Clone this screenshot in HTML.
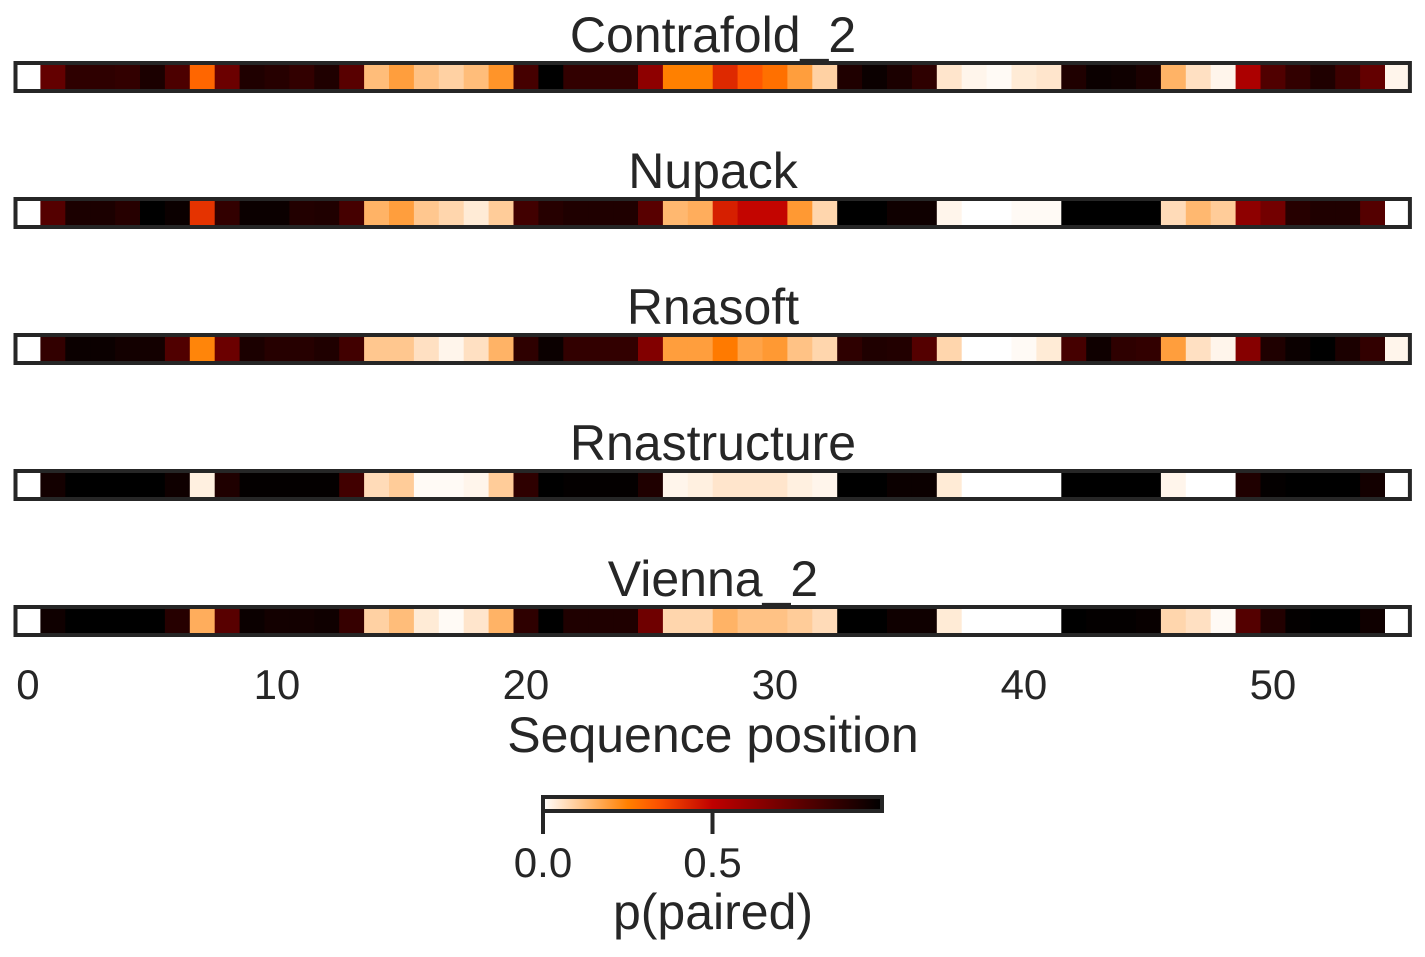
<!DOCTYPE html>
<html><head><meta charset="utf-8">
<style>
html,body{margin:0;padding:0;background:#fff;}
svg{display:block;font-family:"Liberation Sans","DejaVu Sans",sans-serif;}
</style></head>
<body>
<svg id="chart" width="1425" height="957" viewBox="0 0 1425 957" xmlns="http://www.w3.org/2000/svg"></svg>
<script>
const methods = ["Contrafold_2","Nupack","Rnasoft","Rnastructure","Vienna_2"];
const contrafold = [0,.74,.88,.88,.87,.93,.8,.3,.72,.92,.9,.87,.92,.77,.13,.19,.12,.09,.13,.21,.82,1,.87,.87,.87,.63,.25,.25,.42,.33,.28,.19,.09,.92,.97,.93,.88,.05,.02,.01,.04,.05,.92,.97,.96,.93,.15,.06,.02,.55,.79,.87,.92,.84,.74,.02];
const nupack = [0,.78,.93,.93,.9,1,.97,.4,.87,.97,.97,.91,.92,.82,.15,.19,.11,.08,.04,.1,.83,.9,.92,.92,.92,.77,.14,.16,.44,.49,.49,.2,.08,1,1,.96,.96,.02,0,0,.01,.01,1,1,1,1,.07,.14,.1,.63,.7,.9,.92,.92,.78,0];
const rnasoft = [0,.87,.97,.97,.95,.95,.79,.24,.72,.93,.9,.9,.92,.83,.11,.11,.06,.02,.06,.15,.88,.97,.87,.87,.87,.66,.19,.19,.26,.18,.2,.12,.08,.88,.92,.91,.78,.08,0,0,.01,.04,.82,.96,.88,.87,.19,.06,.02,.65,.92,.97,1,.93,.87,.02];
const rnastructure = [0,.95,1,1,1,1,.96,.03,.92,.99,.99,.99,.99,.83,.07,.1,.01,.01,.02,.1,.88,1,.99,.99,.99,.92,.02,.03,.05,.05,.05,.03,.02,1,1,.97,.97,.04,0,0,0,0,1,1,1,1,.02,0,0,.92,.99,1,1,1,.95,0];
const vienna = [0,.96,1,1,1,1,.9,.16,.77,.97,.95,.95,.96,.86,.09,.13,.04,.01,.05,.15,.88,1,.92,.92,.92,.71,.08,.08,.15,.12,.12,.1,.07,1,1,.96,.96,.04,0,0,0,0,1,.99,.99,.98,.08,.06,.01,.78,.91,.99,1,1,.96,0];
const seriesList = [contrafold,nupack,rnasoft,rnastructure,vienna];
const xTicks = [0,10,20,30,40,50];
const cbTicks = [0,0.5];
const cbTickLabels = ["0.0","0.5"];

const NS="http://www.w3.org/2000/svg";
const svg=document.getElementById('chart');
function el(tag,attrs,parent){const e=document.createElementNS(NS,tag);for(const k in attrs)e.setAttribute(k,attrs[k]);(parent||svg).appendChild(e);return e;}
function cmap(v){const x=1-Math.max(0,Math.min(1,v));const c=t=>Math.round(255*Math.max(0,Math.min(1,t)));return `rgb(${c(1.5*x)},${c(2*x-1)},${c(4*x-3)})`;}
const N=56, x0=15.5, cw=24.9;
const xScale=i=>x0+cw*(i+0.5);
const rowTop=i=>63+136*i, rowH=28;
const dark="#262626";

seriesList.forEach((vals,r)=>{
  const g=el('g',{});
  
  
  const t=el('text',{x:713,y:rowTop(r)-11,'text-anchor':'middle','font-size':50,fill:dark},g);
  t.textContent=methods[r];
  
  
  vals.forEach((v,i)=>{
    const c=el('rect',{x:xScale(i)-cw/2,y:rowTop(r),width:cw+0.6,height:rowH,fill:cmap(v)},g);
    
    
  });
  const b=el('rect',{x:x0,y:rowTop(r),width:cw*N,height:rowH,fill:'none',stroke:dark,'stroke-width':4},g);
  
  
});
xTicks.forEach(t=>{
  const tx=el('text',{x:xScale(t),y:699,'text-anchor':'middle','font-size':42,fill:dark});
  tx.textContent=t;
  
  
});
const xl=el('text',{x:713,y:752,'text-anchor':'middle','font-size':50,fill:dark});
xl.textContent='Sequence position';



const defs=el('defs',{});
const lg=el('linearGradient',{id:'cbg',x1:0,x2:1,y1:0,y2:0},defs);
for(let k=0;k<=20;k++){el('stop',{offset:k/20,'stop-color':cmap(k/20)},lg);}
const cbx0=543,cbx1=882,cby=797,cbh=14;
const cbScale=v=>cbx0+(cbx1-cbx0)*v;
const cb=el('rect',{x:cbx0,y:cby,width:cbx1-cbx0,height:cbh,fill:'url(#cbg)',stroke:dark,'stroke-width':4});


cbTicks.forEach((t,i)=>{
  const ln=el('line',{x1:cbScale(t),x2:cbScale(t),y1:cby+cbh,y2:834,stroke:dark,'stroke-width':4});
  
  
  const tx=el('text',{x:cbScale(t),y:877,'text-anchor':'middle','font-size':42,fill:dark});
  tx.textContent=cbTickLabels[i];
  
  
});
const cl=el('text',{x:713,y:929,'text-anchor':'middle','font-size':50,fill:dark});
cl.textContent='p(paired)';


</script>
</body></html>
